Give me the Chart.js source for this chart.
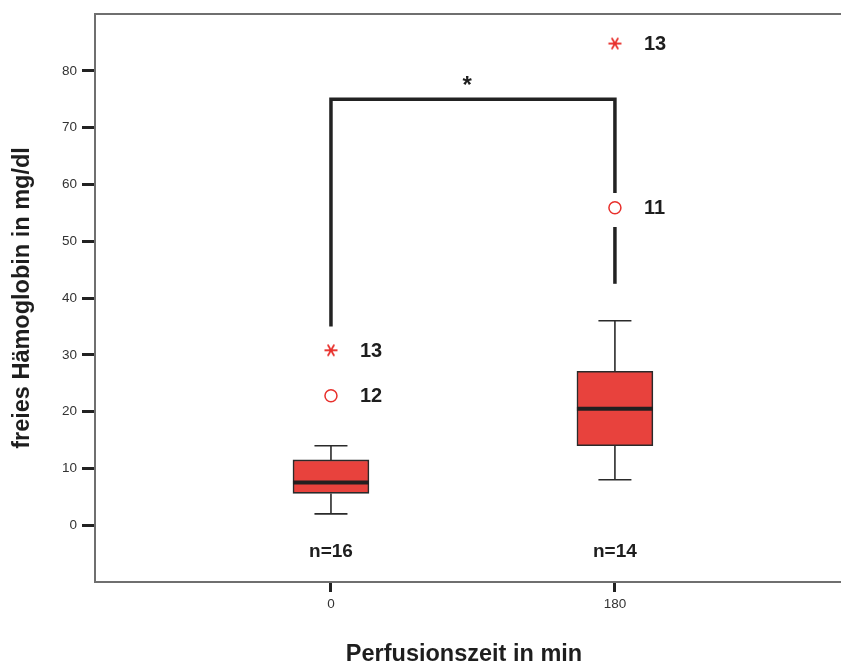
<!DOCTYPE html>
<html>
<head>
<meta charset="utf-8">
<script src="https://cdn.jsdelivr.net/npm/chart.js@4/dist/chart.umd.min.js"></script>
<style>
html,body{margin:0;padding:0;background:#fff;}
#wrap{width:841px;height:666px;position:relative;}
</style>
</head>
<body>
<div id="wrap"><canvas id="c"></canvas></div>
<script>
// ---- data ----
const categories   = ['0', '180'];
const whiskerLow   = [2.0, 8.0];
const q1           = [5.6, 14.0];
const median       = [7.5, 20.5];
const q3           = [11.5, 27.1];
const whiskerHigh  = [14.0, 36.0];
const circleOut    = [22.8, 55.9];
const circleCase   = ['12', '11'];
const starOut      = [30.8, 84.8];
const starCase     = ['13', '13'];
const nLabels      = ['n=16', 'n=14'];
const nLabelY      = -4.6;
const yTickValues  = [0, 10, 20, 30, 40, 50, 60, 70, 80];
// significance bracket (values in mg/dl)
const bracketLeftLow  = 35.0;
const bracketTop      = 75.0;
const bracketRightSeg = [[58.5, 75.0], [42.5, 52.5]];
const sigMark = '*';
const sigMarkPos = {x: 0.48, y: 78.0};

const FONT = "'Liberation Sans', Arial, sans-serif";
const RED = '#e8423d';
const OUT_RED = '#e8302c';
const DARK = '#2a2a2a';
const FRAME = '#6f6f6f';

// six-armed asterisk marker (extreme values)
function makeAsterisk() {
  const s = 16, c = document.createElement('canvas');
  c.width = s; c.height = s;
  const g = c.getContext('2d');
  g.strokeStyle = OUT_RED; g.lineWidth = 1.9; g.lineCap = 'butt';
  const r = 6.5, cx = s / 2, cy = s / 2;
  [0, 60, 120].forEach(a => {
    const rad = a * Math.PI / 180;
    g.beginPath();
    g.moveTo(cx - r * Math.cos(rad), cy - r * Math.sin(rad));
    g.lineTo(cx + r * Math.cos(rad), cy + r * Math.sin(rad));
    g.stroke();
  });
  return c;
}
const asterisk = makeAsterisk();

const extras = {
  id: 'extras',
  beforeDatasetsDraw(chart) {
    const {ctx, scales: {x, y}} = chart;
    ctx.save();
    ctx.strokeStyle = DARK;
    ctx.lineWidth = 1.6;
    categories.forEach((c, i) => {
      const px = x.getPixelForValue(i);
      const seg = (x1, y1, x2, y2) => { ctx.beginPath(); ctx.moveTo(x1, y1); ctx.lineTo(x2, y2); ctx.stroke(); };
      seg(px, y.getPixelForValue(whiskerLow[i]), px, y.getPixelForValue(q1[i]));
      seg(px, y.getPixelForValue(q3[i]), px, y.getPixelForValue(whiskerHigh[i]));
      seg(px - 16.5, y.getPixelForValue(whiskerLow[i]), px + 16.5, y.getPixelForValue(whiskerLow[i]));
      seg(px - 16.5, y.getPixelForValue(whiskerHigh[i]), px + 16.5, y.getPixelForValue(whiskerHigh[i]));
    });
    ctx.restore();
  },
  afterDatasetsDraw(chart) {
    const {ctx, scales: {x, y}, chartArea} = chart;
    ctx.save();
    // medians
    const meta = chart.getDatasetMeta(0);
    ctx.strokeStyle = '#231f20';
    ctx.lineWidth = 4;
    categories.forEach((c, i) => {
      const el = meta.data[i];
      const py = y.getPixelForValue(median[i]);
      ctx.beginPath();
      ctx.moveTo(el.x - el.width / 2, py);
      ctx.lineTo(el.x + el.width / 2, py);
      ctx.stroke();
    });
    // labels
    ctx.fillStyle = '#1e1e1e';
    ctx.textBaseline = 'middle';
    ctx.textAlign = 'left';
    ctx.font = "bold 20px " + FONT;
    categories.forEach((c, i) => {
      const px = x.getPixelForValue(i);
      ctx.fillText(circleCase[i], px + 29, y.getPixelForValue(circleOut[i]) + 1);
      ctx.fillText(starCase[i], px + 29, y.getPixelForValue(starOut[i]) + 1);
    });
    ctx.textAlign = 'center';
    ctx.font = "bold 19px " + FONT;
    categories.forEach((c, i) => {
      ctx.fillText(nLabels[i], x.getPixelForValue(i), y.getPixelForValue(nLabelY));
    });
    ctx.font = "bold 24px " + FONT;
    ctx.fillText(sigMark, x.getPixelForValue(sigMarkPos.x), y.getPixelForValue(sigMarkPos.y) + 4);
    // top frame line and bottom frame line running to the page edge
    ctx.strokeStyle = FRAME;
    ctx.lineWidth = 2;
    ctx.beginPath();
    ctx.moveTo(chartArea.left, Math.round(chartArea.top));
    ctx.lineTo(chart.width, Math.round(chartArea.top));
    ctx.moveTo(chartArea.left, Math.round(chartArea.bottom));
    ctx.lineTo(chart.width, Math.round(chartArea.bottom));
    ctx.stroke();
    ctx.restore();
  }
};

const bracketLine = (pts) => ({
  type: 'line',
  data: pts,
  borderColor: '#222',
  borderWidth: 3.5,
  pointRadius: 0,
  fill: false,
  order: 3,
  borderCapStyle: 'butt',
  borderJoinStyle: 'miter'
});

new Chart(document.getElementById('c'), {
  type: 'bar',
  data: {
    datasets: [
      {
        type: 'bar',
        data: categories.map((c, i) => ({x: i, y: [q1[i], q3[i]]})),
        backgroundColor: RED,
        borderColor: DARK,
        borderWidth: 1.6,
        borderSkipped: false,
        barThickness: 76,
        order: 2
      },
      bracketLine([{x: 0, y: bracketLeftLow}, {x: 0, y: bracketTop}, {x: 1, y: bracketTop}, {x: 1, y: bracketRightSeg[0][0]}]),
      bracketLine([{x: 1, y: bracketRightSeg[1][0]}, {x: 1, y: bracketRightSeg[1][1]}]),
      {
        type: 'scatter',
        data: categories.map((c, i) => ({x: i, y: circleOut[i]})),
        pointStyle: 'circle',
        pointRadius: 6,
        borderColor: OUT_RED,
        backgroundColor: '#ffffff',
        borderWidth: 1.5,
        order: 1
      },
      {
        type: 'scatter',
        data: categories.map((c, i) => ({x: i, y: starOut[i]})),
        pointStyle: asterisk,
        pointRadius: 7,
        borderColor: OUT_RED,
        backgroundColor: OUT_RED,
        order: 1
      }
    ]
  },
  options: {
    responsive: true,
    maintainAspectRatio: false,
    animation: false,
    layout: {padding: {top: 14, right: 0, left: 0, bottom: 0}},
    plugins: {legend: {display: false}, tooltip: {enabled: false}},
    scales: {
      x: {
        type: 'linear',
        min: -0.831,
        max: 1.768,
        offset: false,
        afterBuildTicks(scale) { scale.ticks = categories.map((c, i) => ({value: i})); },
        afterFit(scale) { scale.height = 84; scale.paddingLeft = 0; scale.paddingRight = 0; },
        grid: {display: true, offset: false, drawOnChartArea: false, drawTicks: true, tickLength: 10, tickWidth: 3, tickColor: '#222'},
        border: {display: true, color: FRAME, width: 2},
        ticks: {
          callback: (v) => categories[v],
          font: {family: FONT, size: 13.5},
          color: '#333',
          padding: 4,
          maxRotation: 0,
          autoSkip: false
        },
        title: {
          display: true,
          text: 'Perfusionszeit in min',
          font: {family: FONT, size: 23.5, weight: 'bold', lineHeight: 1},
          color: '#1e1e1e',
          padding: {top: 0, bottom: 0}
        }
      },
      y: {
        min: -10,
        max: 90,
        afterBuildTicks(scale) { scale.ticks = yTickValues.map(v => ({value: v})); },
        afterFit(scale) { scale.width = 95; },
        grid: {display: true, drawOnChartArea: false, drawTicks: true, tickLength: 13, tickWidth: 3, tickColor: '#222'},
        border: {display: true, color: FRAME, width: 2},
        ticks: {
          font: {family: FONT, size: 13.5},
          color: '#333',
          padding: 5
        },
        title: {
          display: true,
          text: 'freies Hämoglobin in mg/dl',
          font: {family: FONT, size: 23.5, weight: 'bold', lineHeight: 1.2},
          color: '#1e1e1e',
          padding: {top: 8, bottom: 0}
        }
      }
    }
  },
  plugins: [extras]
});
</script>
</body>
</html>
